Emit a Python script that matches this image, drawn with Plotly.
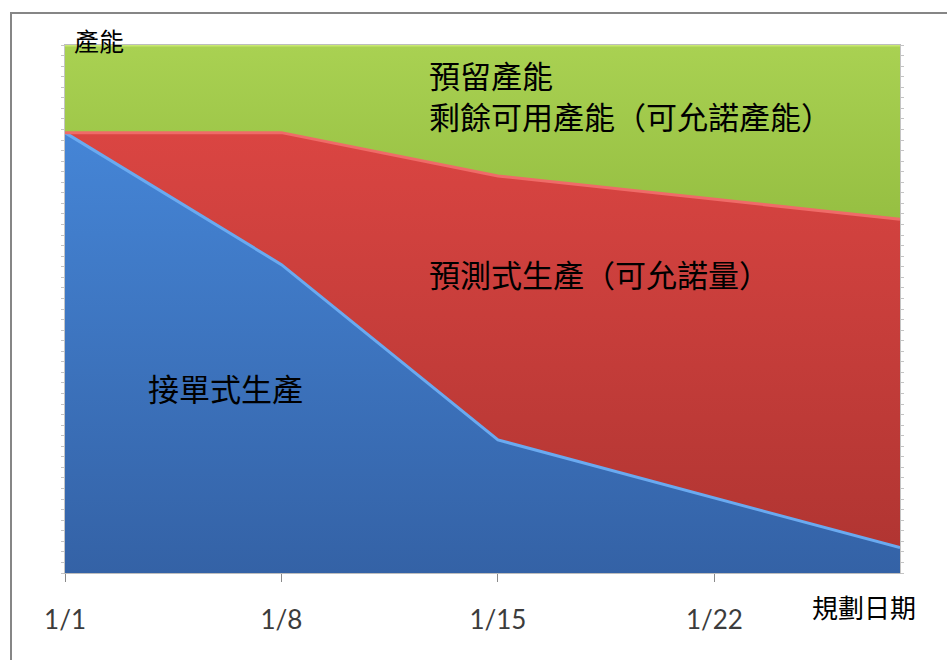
import plotly.graph_objects as go

# ---- data ----
dates = ["2024-01-01", "2024-01-08", "2024-01-15", "2024-01-28"]
tick_dates = ["2024-01-01", "2024-01-08", "2024-01-15", "2024-01-22"]
tick_labels = ["1/1", "1/8", "1/15", "1/22"]
order_based = [41.7, 29.2, 12.6, 2.4]      # 接單式生產
forecast = [0.0, 12.5, 25.0, 31.1]         # 預測式生產（可允諾量）
reserve = [8.3, 8.3, 12.4, 16.5]           # 預留產能 / 剩餘可用產能
y_max = 50

W, H = 947, 660
L, R, T, B = 65, 47, 45, 87
pw, ph = W - L - R, H - T - B


def px(x):
    return (x - L) / pw


def py(y):
    return (H - B - y) / ph


fig = go.Figure()
fig.add_trace(go.Scatter(
    x=dates, y=order_based, stackgroup="one", mode="lines",
    line=dict(color="#6aaaf0", width=3),
    fillgradient=dict(type="vertical",
                      colorscale=[[0, "#3462a6"], [1, "#4585d6"]]),
    hoverinfo="skip", showlegend=False))
fig.add_trace(go.Scatter(
    x=dates, y=forecast, stackgroup="one", mode="lines",
    line=dict(color="#ef6b68", width=3),
    fillgradient=dict(type="vertical",
                      colorscale=[[0, "#b13532"], [1, "#da4542"]]),
    hoverinfo="skip", showlegend=False))
fig.add_trace(go.Scatter(
    x=dates, y=reserve, stackgroup="one", mode="lines",
    line=dict(color="#c8e870", width=3),
    fillgradient=dict(type="vertical",
                      colorscale=[[0, "#96bf42"], [1, "#a9d152"]]),
    hoverinfo="skip", showlegend=False))

cjk = "Noto Sans CJK TC"
texts = [
    ("預留產能", 427, 74, 31),
    ("剩餘可用產能（可允諾產能）", 427, 115, 31),
    ("預測式生產（可允諾量）", 427, 273, 31),
    ("接單式生產", 146, 387, 31),
    ("產能", 72, 40, 25),
    ("規劃日期", 810, 606, 26),
]
annotations = [
    dict(text=t, x=px(x), y=py(y), xref="paper", yref="paper",
         xanchor="left", yanchor="middle", showarrow=False,
         font=dict(family=cjk, size=s, color="#000000"))
    for t, x, y, s in texts
]

fig.update_layout(
    width=W, height=H,
    margin=dict(l=L, r=R, t=T, b=B),
    paper_bgcolor="white", plot_bgcolor="white",
    annotations=annotations,
    shapes=[dict(type="rect", xref="paper", yref="paper",
                 x0=px(11), x1=px(W + 20), y0=py(H + 20), y1=py(13),
                 line=dict(color="#868686", width=2), layer="below")],
    xaxis=dict(type="date", range=[dates[0], dates[-1]],
               tickvals=tick_dates, ticktext=tick_labels,
               ticks="outside", ticklen=8, tickcolor="#8a8a8a",
               showline=True, linecolor="#bdbdbd", linewidth=1, mirror=True,
               showgrid=False, zeroline=False,
               ticklabelstandoff=16,
               tickfont=dict(family="Lato", size=26, color="#3c3c3c")),
    yaxis=dict(range=[0, y_max], showticklabels=False,
               ticks="outside", dtick=1, ticklen=3, tickcolor="#c4c4c4",
               showline=True, linecolor="#c4c4c4", linewidth=1,
               mirror="ticks", showgrid=False, zeroline=False),
)

fig.write_html("out.html")
